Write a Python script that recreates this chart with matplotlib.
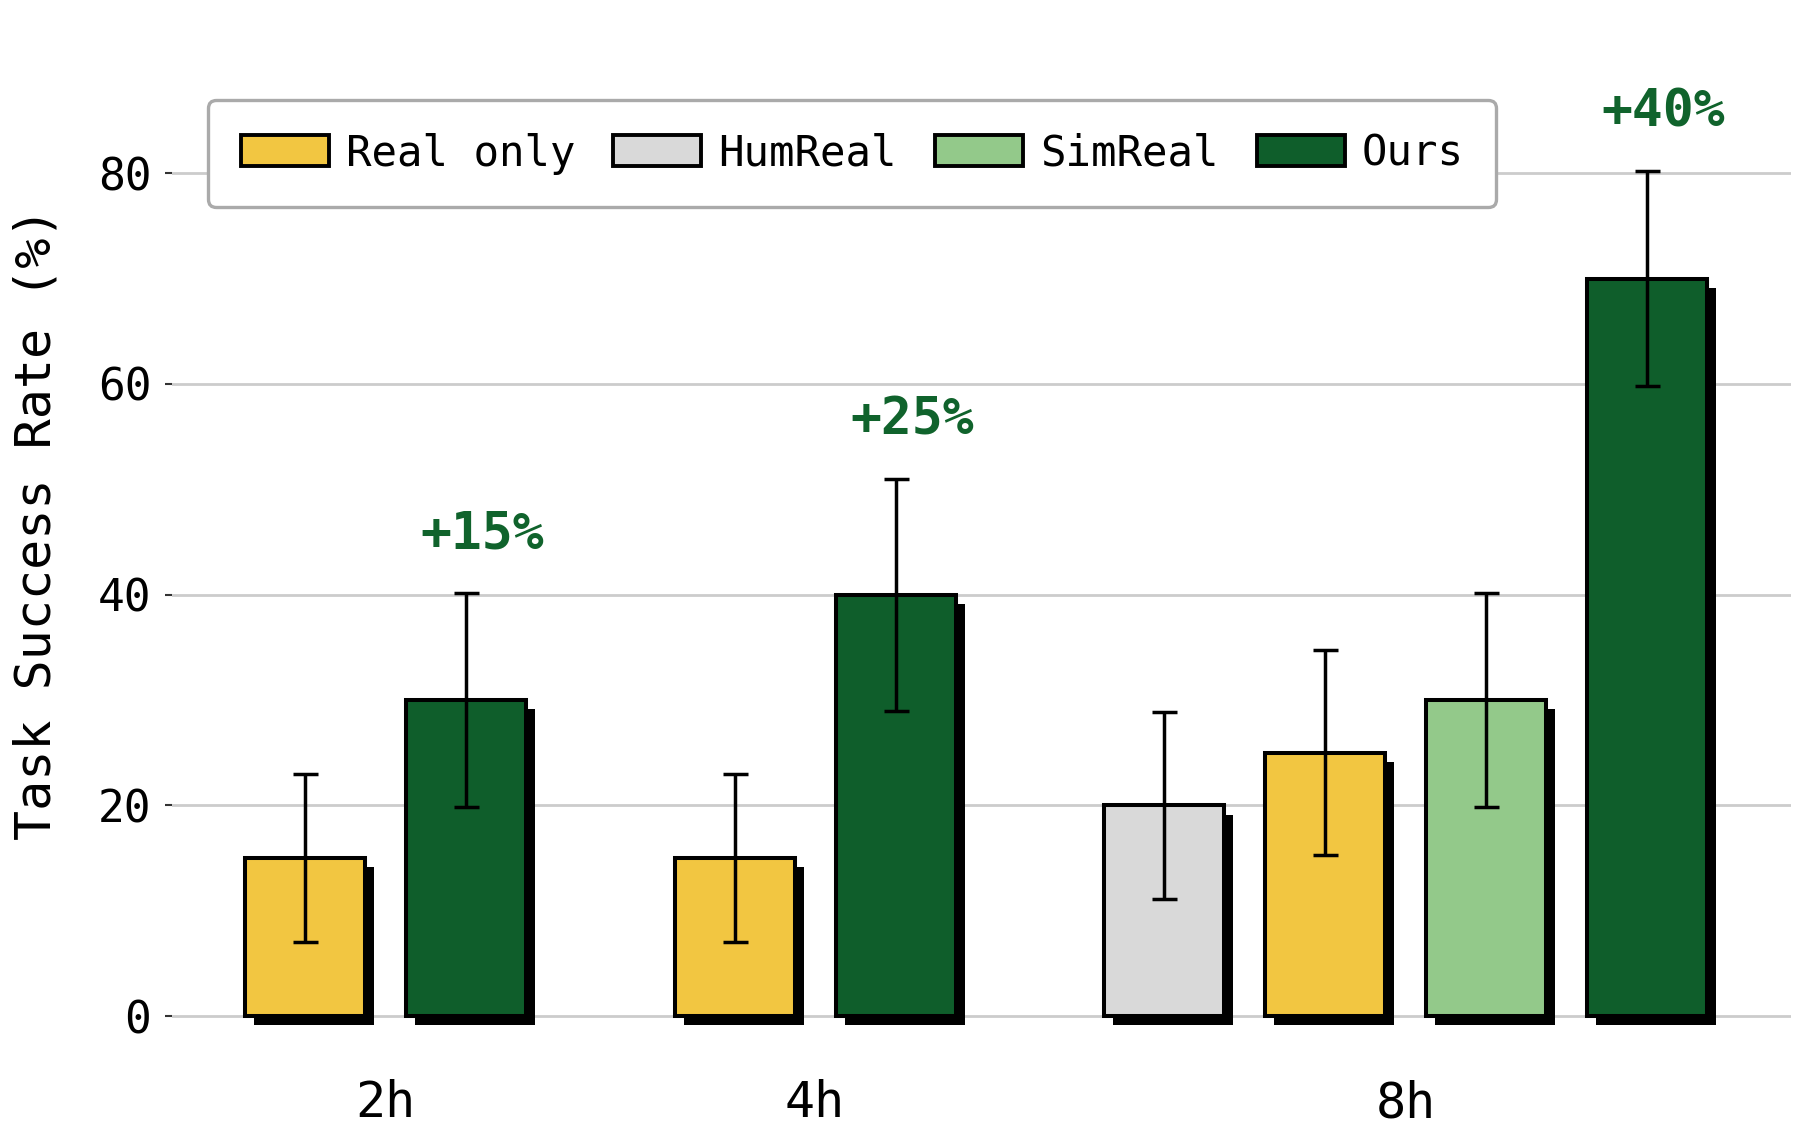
import numpy as np
import matplotlib
matplotlib.use("Agg")
import matplotlib.pyplot as plt
import matplotlib.patheffects as pe
from matplotlib.patches import Patch

plt.rcParams['font.family'] = ['DejaVu Sans Mono']

# data
groups = ["2h", "4h", "8h"]
methods = ["Real only", "HumReal", "SimReal", "Ours"]
colors = {"Real only": "#F2C641", "HumReal": "#D9D9D9",
          "SimReal": "#93C98A", "Ours": "#0F5E2B"}

bar_group = ["2h", "2h", "4h", "4h", "8h", "8h", "8h", "8h"]
bar_method = ["Real only", "Ours", "Real only", "Ours",
              "HumReal", "Real only", "SimReal", "Ours"]
bar_value = [15, 30, 15, 40, 20, 25, 30, 70]
bar_err = [8.0, 10.2, 8.0, 11.0, 8.9, 9.7, 10.2, 10.2]

gain_labels = ["+15%", "+25%", "+40%"]
gain_bar = [1, 3, 7]   # which bar each gain label sits over

# layout: bars 1 apart within a group, extra gap between groups
width = 0.745
group_gap = 0.67
xs = []
pos = 0.0
prev = None
for g in bar_group:
    if prev is not None:
        pos += 1.0 if g == prev else 1.0 + group_gap
    xs.append(pos)
    prev = g
xs = np.array(xs)

fig = plt.figure(figsize=(18.05, 11.42), dpi=100)
ax = fig.add_axes([0.0953, 0.1011, 0.8970, 0.8394])

shadow = [pe.SimplePatchShadow(offset=(6.5, -6.7), shadow_rgbFace="black", alpha=1.0),
          pe.Normal()]

for x, m, v, e in zip(xs, bar_method, bar_value, bar_err):
    b = ax.bar(x, v, width=width, color=colors[m], edgecolor="black",
               linewidth=2.9, zorder=3)
    b[0].set_path_effects(shadow)
    ax.errorbar(x, v, yerr=e, fmt="none", ecolor="black", elinewidth=2.5,
                capsize=9, capthick=2.5, zorder=4)

for lab, i in zip(gain_labels, gain_bar):
    ax.text(xs[i] + 0.1, bar_value[i] + bar_err[i] + 4.2, lab,
            ha="center", va="baseline", fontsize=37, fontweight="bold",
            color="#10632C", zorder=5)

# group ticks at the middle of each group
centers = [xs[[k for k, g in enumerate(bar_group) if g == grp]].mean() for grp in groups]
ax.set_xticks(centers)
ax.set_xticklabels(groups, fontsize=36)
ax.tick_params(axis="x", length=0, pad=38)

ax.set_yticks([0, 20, 40, 60, 80])
ax.tick_params(axis="y", labelsize=32, length=5, width=1.5, color="#333333", pad=10)
ax.set_ylabel("Task Success Rate (%)", fontsize=36)
ax.yaxis.set_label_coords(-0.069, 0.5245)

ax.set_xlim(xs[0] - 0.827, xs[-1] + 0.895)
ax.set_ylim(-1, 90)
ax.yaxis.grid(True, color="#CCCCCC", linewidth=2.0, zorder=0)
ax.set_axisbelow(True)
for s in ax.spines.values():
    s.set_visible(False)

handles = [Patch(facecolor=colors[m], edgecolor="black", linewidth=2.8, label=m)
           for m in methods]
leg = ax.legend(handles=handles, ncol=4, loc="upper left",
                bbox_to_anchor=(0.0222, 0.9666), borderaxespad=0,
                fontsize=30.5, frameon=True, fancybox=True, framealpha=1,
                handlelength=2.08, handleheight=0.755, handletextpad=0.4,
                columnspacing=0.9, borderpad=0.77)
leg.get_frame().set_edgecolor("#AAAAAA")
leg.get_frame().set_linewidth(2.4)

fig.savefig("out.png", dpi=100)
